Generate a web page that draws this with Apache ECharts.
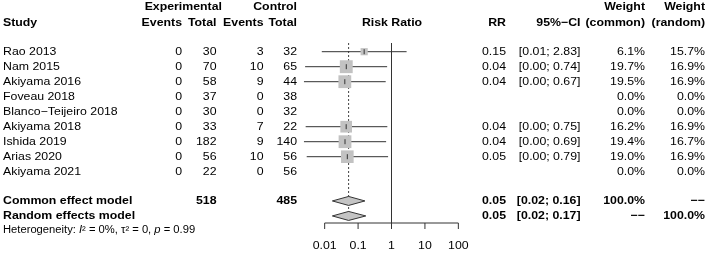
<!DOCTYPE html>
<html><head><meta charset="utf-8">
<script src="https://cdn.jsdelivr.net/npm/echarts@6/dist/echarts.min.js"></script>
<style>html,body{margin:0;padding:0;background:#fff}#c{width:710px;height:254px}</style>
</head><body><div id="c"></div>
<script>
// ---------- data ----------
const studies = ['Rao 2013','Nam 2015','Akiyama 2016','Foveau 2018','Blanco\u2212Teijeiro 2018','Akiyama 2018','Ishida 2019','Arias 2020','Akiyama 2021'];
const expEvents = [0,0,0,0,0,0,0,0,0];
const expTotal = [30,70,58,37,30,33,182,56,22];
const ctrlEvents = [3,10,9,0,0,7,9,10,0];
const ctrlTotal = [32,65,44,38,32,22,140,56,56];
const rr = [0.152,0.0443,0.0401,null,null,0.0440,0.0406,0.0476,null];
const ciLow = [0.0082,0.0026,0.0024,null,null,0.0027,0.0024,0.0029,null];
const ciHigh = [2.83,0.74,0.67,null,null,0.75,0.69,0.79,null];
const weightCommon = [6.1,19.7,19.5,0.0,0.0,16.2,19.4,19.0,0.0];
const weightRandom = [15.7,16.9,16.9,0.0,0.0,16.9,16.7,16.9,0.0];
const commonModel = {rr:0.052, lo:0.017, hi:0.16};
const randomModel = {rr:0.052, lo:0.017, hi:0.17};
const tickValues = [0.01,0.1,1,10,100];
const tickLabels = ['0.01','0.1','1','10','100'];

// ---------- layout ----------
const FONT = '"Liberation Sans", Arial, Helvetica, sans-serif';
const SX = 1.12;
const ROW0 = 51.7, ROWH = 15;
const yMin = -ROW0/ROWH, yMax = (254-ROW0)/ROWH;
const H1 = -2.97, H2 = -1.9, RC = 9.95, RR_ = 10.95, HET = 11.88, AXR = 11.42, TOPR = -0.58;
const COL = {study:3, expEv:182, expTot:216.5, ctlEv:263.5, ctlTot:297, rr:506, ci:580.5, wc:645, wr:705};

const cells = [];
function cell(x,row,text,align,bold,size,rich){cells.push({x,row,text:String(text),align,bold,size:size||11,rich});}
cell(222,H1,'Experimental','right',true);
cell(COL.ctlTot,H1,'Control','right',true);
cell(COL.wc,H1,'Weight','right',true);
cell(COL.wr,H1,'Weight','right',true);
cell(COL.study,H2,'Study','left',true);
cell(COL.expEv,H2,'Events','right',true);
cell(COL.expTot,H2,'Total','right',true);
cell(COL.ctlEv,H2,'Events','right',true);
cell(COL.ctlTot,H2,'Total','right',true);
cell(392,H2,'Risk Ratio','center',true);
cell(COL.rr,H2,'RR','right',true);
cell(COL.ci,H2,'95%\u2212CI','right',true);
cell(COL.wc,H2,'(common)','right',true);
cell(COL.wr,H2,'(random)','right',true);
studies.forEach((s,i)=>{
  cell(COL.study,i,s,'left',false);
  cell(COL.expEv,i,expEvents[i],'right');
  cell(COL.expTot,i,expTotal[i],'right');
  cell(COL.ctlEv,i,ctrlEvents[i],'right');
  cell(COL.ctlTot,i,ctrlTotal[i],'right');
  if(rr[i]!=null){
    cell(COL.rr,i,rr[i].toFixed(2),'right');
    cell(COL.ci,i,'['+ciLow[i].toFixed(2)+'; '+ciHigh[i].toFixed(2)+']','right');
  }
  cell(COL.wc,i,weightCommon[i].toFixed(1)+'%','right');
  cell(COL.wr,i,weightRandom[i].toFixed(1)+'%','right');
});
const sumE = expTotal.reduce((a,b)=>a+b,0), sumC = ctrlTotal.reduce((a,b)=>a+b,0);
cell(COL.study,RC,'Common effect model','left',true);
cell(COL.expTot,RC,sumE,'right',true);
cell(COL.ctlTot,RC,sumC,'right',true);
cell(COL.rr,RC,commonModel.rr.toFixed(2),'right',true);
cell(COL.ci,RC,'['+commonModel.lo.toFixed(2)+'; '+commonModel.hi.toFixed(2)+']','right',true);
cell(COL.wc,RC,'100.0%','right',true);
cell(COL.wr,RC,'\u2212\u2212','right',true);
cell(COL.study,RR_,'Random effects model','left',true);
cell(COL.rr,RR_,randomModel.rr.toFixed(2),'right',true);
cell(COL.ci,RR_,'['+randomModel.lo.toFixed(2)+'; '+randomModel.hi.toFixed(2)+']','right',true);
cell(COL.wc,RR_,'\u2212\u2212','right',true);
cell(COL.wr,RR_,'100.0%','right',true);
cell(COL.study,HET,'Heterogeneity: {i|I}\u00b2 = 0%, \u03c4\u00b2 = 0, {i|p} = 0.99','left',false,10,{i:{fontStyle:'italic',fontSize:10,fontFamily:FONT,fill:'#000'}});

const studyPts = [];
rr.forEach((v,i)=>{ if(v!=null) studyPts.push([v,i,ciLow[i],ciHigh[i],weightCommon[i]]); });

const LINE = '#333';
const chart = echarts.init(document.getElementById('c'),null,{renderer:'canvas'});
chart.setOption({
  animation:false,
  grid:[{left:0,top:0,width:710,height:254},{left:291.25,top:0,width:167.1,height:254}],
  xAxis:[{type:'value',min:0,max:710,show:false,gridIndex:0},
         {type:'log',logBase:10,min:0.001,max:100,show:false,gridIndex:1}],
  yAxis:[{type:'value',min:yMin,max:yMax,inverse:true,show:false,gridIndex:0},
         {type:'value',min:yMin,max:yMax,inverse:true,show:false,gridIndex:1}],
  series:[
    { // reference lines + axis
      type:'custom',xAxisIndex:1,yAxisIndex:1,silent:true,
      data:[[1]],
      renderItem:(params,api)=>{
        const ch=[];
        const a=api.coord([1,TOPR]), b=api.coord([1,AXR]);
        ch.push({type:'line',shape:{x1:a[0],y1:a[1],x2:b[0],y2:b[1]},style:{stroke:LINE,lineWidth:1}});
        const c1=api.coord([commonModel.rr,TOPR]), c2=api.coord([commonModel.rr,AXR-0.25]);
        ch.push({type:'line',shape:{x1:c1[0],y1:c1[1],x2:c2[0],y2:c2[1]},style:{stroke:'#444',lineWidth:1,lineDash:[2,2]}});
        const l0=api.coord([tickValues[0],AXR]), l1=api.coord([tickValues[tickValues.length-1],AXR]);
        ch.push({type:'line',shape:{x1:l0[0],y1:l0[1],x2:l1[0],y2:l1[1]},style:{stroke:LINE,lineWidth:1}});
        tickValues.forEach((t,k)=>{
          const p=api.coord([t,AXR]);
          ch.push({type:'line',shape:{x1:p[0],y1:p[1],x2:p[0],y2:p[1]+6},style:{stroke:LINE,lineWidth:1}});
          ch.push({type:'text',x:p[0],y:p[1]+23,scaleX:SX,style:{text:tickLabels[k],font:'11px '+FONT,fill:'#000',textAlign:'center',textVerticalAlign:'middle',align:'center',verticalAlign:'middle'}});
        });
        return {type:'group',children:ch};
      }
    },
    { // study estimates
      type:'custom',xAxisIndex:1,yAxisIndex:1,silent:true,
      data:studyPts,
      renderItem:(params,api)=>{
        const p=api.coord([api.value(0),api.value(1)]);
        const l=api.coord([api.value(2),api.value(1)]);
        const h=api.coord([api.value(3),api.value(1)]);
        const s=2.9*Math.sqrt(api.value(4));
        return {type:'group',children:[
          {type:'line',shape:{x1:l[0],y1:l[1],x2:h[0],y2:h[1]},style:{stroke:LINE,lineWidth:1}},
          {type:'rect',shape:{x:p[0]-s/2,y:p[1]-s/2,width:s,height:s},style:{fill:'#c2c2c2'}},
          {type:'line',shape:{x1:p[0],y1:p[1]-2.5,x2:p[0],y2:p[1]+2.5},style:{stroke:LINE,lineWidth:1}}
        ]};
      }
    },
    { // diamonds
      type:'custom',xAxisIndex:1,yAxisIndex:1,silent:true,
      data:[[commonModel.rr,RC,commonModel.lo,commonModel.hi],[randomModel.rr,RR_,randomModel.lo,randomModel.hi]],
      renderItem:(params,api)=>{
        const r=api.value(1);
        const pts=[api.coord([api.value(2),r]),api.coord([api.value(0),r-0.3]),api.coord([api.value(3),r]),api.coord([api.value(0),r+0.3])];
        return {type:'polygon',shape:{points:pts},style:{fill:'#c4c4c4',stroke:'#333',lineWidth:1}};
      }
    },
    { // table text
      type:'custom',xAxisIndex:0,yAxisIndex:0,silent:true,
      data:cells.map(c=>[c.x,c.row]),
      renderItem:(params,api)=>{
        const c=cells[params.dataIndex];
        const p=api.coord([api.value(0),api.value(1)]);
        const st={text:c.text,font:(c.bold?'bold ':'')+c.size+'px '+FONT,fill:'#000',
          textAlign:c.align,textVerticalAlign:'middle',align:c.align,verticalAlign:'middle'};
        if(c.rich) st.rich=c.rich;
        return {type:'text',x:p[0],y:p[1],scaleX:SX,style:st};
      }
    }
  ]
});
</script></body></html>
